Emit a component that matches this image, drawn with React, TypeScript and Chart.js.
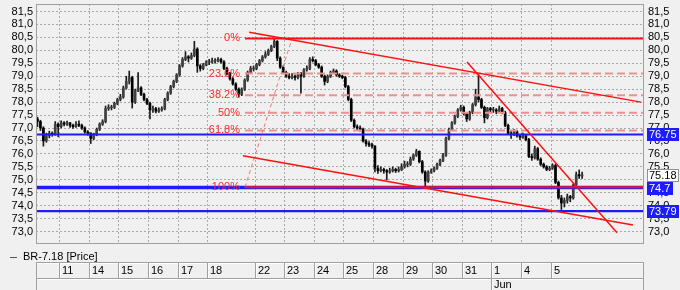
import React, { useEffect, useRef } from 'react';
import { Chart, registerables } from 'chart.js';

Chart.register(...registerables);

const FONT = '"Liberation Sans", Arial, Helvetica, sans-serif';

const seriesName = 'BR-7.18 [Price]';
const dayLabels = ['11', '14', '15', '16', '17', '18', '22', '23', '24', '25', '28', '29', '30', '31', '1', '4', '5'];
const dayStarts = [7.5, 17.5, 27.5, 37.5, 47.5, 57.5, 73.5, 83.5, 93.5, 103.5, 113.5, 123.5, 133.5, 143.5, 153.5, 163.5, 173.5];
const monthLabels = ['Jun'];
const monthStarts = [153.5];
const priceTicks = [73.0, 73.5, 74.0, 74.5, 75.0, 75.5, 76.0, 76.5, 77.0, 77.5, 78.0, 78.5, 79.0, 79.5, 80.0, 80.5, 81.0, 81.5];

const opens = [
  77.35, 77.25, 77.0, 76.5, 76.7, 76.8, 76.75, 77.15,
  77.05, 77.2, 77.15, 77.2, 77.1, 77.05, 77.15, 77.1, 77.0, 76.85,
  76.8, 76.6, 76.75, 76.95, 77.15, 77.25, 77.75, 77.8, 77.8, 77.95,
  78.1, 78.2, 78.55, 78.8, 78.95, 78.0, 78.45, 78.55, 78.3, 78.1,
  77.95, 77.7, 77.75, 77.65, 77.7, 77.75, 78.1, 78.35, 78.6, 78.8,
  79.05, 79.4, 79.65, 79.75, 79.7, 79.8, 80.05, 79.4, 79.3, 79.45,
  79.55, 79.55, 79.6, 79.6, 79.65, 79.55, 79.3, 79.1, 78.9, 78.7, 78.5, 78.3, 78.5, 78.85, 79.15, 79.3,
  79.3, 79.45, 79.6, 79.75, 79.85, 80.0, 80.15, 80.35, 79.7, 79.35,
  79.15, 79.0, 78.95, 79.0, 78.95, 79.1, 79.0, 79.25, 79.3, 79.65,
  79.6, 79.45, 79.35, 79.0, 78.8, 79.0, 79.15, 79.2, 79.05, 79.0,
  78.95, 78.6, 78.1, 77.3, 77.05, 77.0, 76.95, 76.5, 76.4, 76.35,
  76.3, 75.45, 75.35, 75.4, 75.35, 75.3, 75.35, 75.4, 75.35, 75.4,
  75.5, 75.6, 75.6, 75.8, 75.95, 76.1, 75.7, 75.3, 74.95, 75.3,
  75.35, 75.45, 75.6, 75.75, 75.95, 76.6, 76.95, 77.2, 77.45, 77.7,
  77.8, 77.55, 77.35, 77.6, 77.9, 78.2, 78.1, 77.8, 77.4, 77.75,
  77.7, 77.7, 77.65, 77.75, 77.6, 77.1, 76.8, 76.75, 76.85, 76.7,
  76.65, 76.7, 76.55, 75.9, 75.85, 76.2, 75.8, 75.6, 75.5, 75.4,
  75.45, 75.55, 74.9, 74.3, 74.1, 74.2, 74.35, 74.3, 74.8, 75.2, 75.15
];
const highs = [
  77.42, 77.3, 77.05, 76.8, 76.88, 76.85, 77.25, 77.2,
  77.28, 77.25, 77.27, 77.22, 77.15, 77.25, 77.28, 77.15, 77.05, 76.9,
  76.82, 76.8, 77.0, 77.2, 77.32, 77.85, 77.9, 77.88, 78.0, 78.15,
  78.3, 78.62, 79.0, 79.2, 79.0, 78.5, 79.14, 78.6, 78.35, 78.15,
  78.0, 77.85, 77.8, 77.78, 77.82, 78.15, 78.4, 78.65, 78.85, 79.1,
  79.45, 79.72, 79.95, 79.8, 79.9, 80.35, 80.1, 79.45, 79.5, 79.6,
  79.65, 79.7, 79.68, 79.72, 79.7, 79.6, 79.35, 79.15, 78.95, 78.75, 78.55, 78.55, 78.9, 79.2, 79.38, 79.4,
  79.5, 79.65, 79.8, 79.95, 80.05, 80.2, 80.45, 80.38, 79.75, 79.4,
  79.2, 79.1, 79.1, 79.05, 79.15, 79.15, 79.3, 79.4, 79.72, 79.75,
  79.65, 79.5, 79.4, 79.05, 79.05, 79.2, 79.28, 79.25, 79.1, 79.05,
  79.0, 78.65, 78.15, 77.35, 77.12, 77.08, 77.0, 76.55, 76.48, 76.42,
  76.32, 75.55, 75.5, 75.45, 75.4, 75.45, 75.5, 75.45, 75.5, 75.62,
  75.72, 75.7, 75.88, 76.0, 76.18, 76.12, 75.75, 75.35, 75.35, 75.42,
  75.5, 75.65, 75.8, 76.02, 76.65, 77.0, 77.25, 77.5, 77.75, 77.88,
  77.85, 77.6, 77.65, 77.95, 78.5, 79.05, 78.15, 77.85, 77.8, 77.8,
  77.8, 77.75, 77.85, 77.8, 77.65, 77.15, 76.9, 76.95, 76.9, 76.75,
  76.8, 76.75, 76.6, 76.0, 76.3, 76.25, 75.85, 75.65, 75.55, 75.52,
  75.62, 75.6, 74.95, 74.4, 74.3, 74.45, 74.4, 74.85, 75.3, 75.38, 75.3
];
const lows = [
  77.05, 76.9, 76.3, 76.45, 76.62, 76.68, 76.72, 76.66,
  77.0, 77.08, 77.1, 77.02, 76.98, 77.02, 77.05, 76.95, 76.8, 76.72,
  76.4, 76.55, 76.7, 76.9, 77.1, 77.2, 77.68, 77.7, 77.75, 77.9,
  78.05, 78.15, 78.5, 78.7, 77.77, 77.95, 78.4, 78.25, 78.05, 77.9,
  77.35, 77.6, 77.58, 77.6, 77.65, 77.7, 78.05, 78.3, 78.55, 78.75,
  79.0, 79.35, 79.6, 79.55, 79.65, 79.75, 79.15, 79.2, 79.25, 79.4,
  79.45, 79.5, 79.5, 79.55, 79.5, 79.25, 79.05, 78.85, 78.65, 78.45, 78.2, 78.25, 78.45, 78.8, 79.1, 79.2,
  79.25, 79.4, 79.55, 79.7, 79.8, 79.95, 80.1, 79.6, 79.3, 79.1,
  78.95, 78.9, 78.9, 78.85, 78.9, 78.35, 78.95, 79.2, 79.25, 79.55,
  79.4, 79.3, 78.95, 78.66, 78.75, 78.95, 79.1, 79.0, 78.95, 78.9,
  78.55, 78.05, 77.25, 77.0, 76.92, 76.88, 76.45, 76.3, 76.28, 76.22,
  75.3, 75.25, 75.3, 75.25, 75.0, 75.25, 75.3, 75.28, 75.3, 75.35,
  75.45, 75.5, 75.55, 75.75, 75.9, 75.65, 75.25, 74.72, 74.9, 75.25,
  75.3, 75.4, 75.55, 75.7, 75.9, 76.55, 76.9, 77.15, 77.4, 77.65,
  77.5, 77.25, 77.3, 77.55, 77.85, 78.0, 77.75, 77.2, 77.35, 77.6,
  77.6, 77.55, 77.6, 77.55, 77.05, 76.75, 76.6, 76.7, 76.65, 76.55,
  76.6, 76.5, 75.85, 75.75, 75.8, 75.75, 75.55, 75.45, 75.35, 75.35,
  75.4, 74.85, 74.25, 73.85, 73.95, 74.1, 74.15, 74.25, 74.75, 75.05, 75.05
];
const closes = [
  77.25, 77.0, 76.5, 76.7, 76.8, 76.75, 77.15, 77.05,
  77.2, 77.15, 77.2, 77.1, 77.05, 77.15, 77.1, 77.0, 76.85, 76.8,
  76.6, 76.75, 76.95, 77.15, 77.25, 77.75, 77.8, 77.8, 77.95, 78.1,
  78.2, 78.55, 78.8, 78.95, 78.0, 78.45, 78.55, 78.3, 78.1, 77.95,
  77.7, 77.75, 77.65, 77.7, 77.75, 78.1, 78.35, 78.6, 78.8, 79.05,
  79.4, 79.65, 79.75, 79.7, 79.8, 80.05, 79.4, 79.3, 79.45, 79.55,
  79.55, 79.6, 79.6, 79.65, 79.55, 79.3, 79.1, 78.9, 78.7, 78.5, 78.3, 78.5, 78.85, 79.15, 79.3, 79.3,
  79.45, 79.6, 79.75, 79.85, 80.0, 80.15, 80.35, 79.7, 79.35, 79.15,
  79.0, 78.95, 79.0, 78.95, 79.1, 79.0, 79.25, 79.3, 79.65, 79.6,
  79.45, 79.35, 79.0, 78.8, 79.0, 79.15, 79.2, 79.05, 79.0, 78.95,
  78.6, 78.1, 77.3, 77.05, 77.0, 76.95, 76.5, 76.4, 76.35, 76.3,
  75.45, 75.35, 75.4, 75.35, 75.3, 75.35, 75.4, 75.35, 75.4, 75.5,
  75.6, 75.6, 75.8, 75.95, 76.1, 75.7, 75.3, 74.95, 75.3, 75.35,
  75.45, 75.6, 75.75, 75.95, 76.6, 76.95, 77.2, 77.45, 77.7, 77.8,
  77.55, 77.35, 77.6, 77.9, 78.2, 78.1, 77.8, 77.4, 77.75, 77.7,
  77.7, 77.65, 77.75, 77.6, 77.1, 76.8, 76.75, 76.85, 76.7, 76.65,
  76.7, 76.55, 75.9, 75.85, 76.2, 75.8, 75.6, 75.5, 75.4, 75.45,
  75.55, 74.9, 74.3, 74.1, 74.2, 74.35, 74.3, 74.8, 75.2, 75.15, 75.18
];

const levelLines = [76.75, 74.7, 73.79];
const lastPrice = 75.18;
const fibHigh = 80.46;
const fibLow = 74.71;
const fibFrom = 70.1;
const fibPeak = 86.0;
const fibPercents = [0, 23.6, 38.2, 50, 61.8, 100];
const trendStartX = [71.5, 69.4, 145.1];
const trendStartY = [80.7, 75.93, 79.55];
const trendEndX = [203.9, 201.2, 195.8];
const trendEndY = [78.0, 73.25, 72.95];

const X_MIN = -0.5;
const X_MAX = 204.9;
const Y_MIN = 72.52;
const Y_MAX = 81.79;

const BLUE = '#1c1cff';
const RED = '#ff1010';
const GRID = '#a8a8a8';

function seg(x1: number, y1: number, x2: number, y2: number, color: string, width: number, dash: number[], order: number) {
  return {
    type: 'line',
    label: '',
    data: [{ x: x1, y: y1 }, { x: x2, y: y2 }],
    borderColor: color,
    borderWidth: width,
    borderDash: dash,
    pointRadius: 0,
    fill: false,
    tension: 0,
    order,
  };
}

const fibValue = (p: number) => fibHigh - ((fibHigh - fibLow) * p) / 100;

const decorPlugin = {
  id: 'decor',
  beforeDraw(chart: any) {
    const ctx = chart.ctx;
    ctx.save();
    ctx.fillStyle = '#f0f0f0';
    ctx.fillRect(0, 0, chart.width, chart.height);
    ctx.restore();
  },
  afterDatasetsDraw(chart: any) {
    const ctx = chart.ctx;
    const xs = chart.scales.x;
    const ys = chart.scales.y;
    ctx.save();
    ctx.font = `11px ${FONT}`;
    ctx.fillStyle = '#ff2a2a';
    ctx.textAlign = 'right';
    ctx.textBaseline = 'middle';
    const lx = xs.getPixelForValue(fibFrom) - 5;
    fibPercents.forEach((p) => {
      ctx.fillText(`${p}%`, lx, ys.getPixelForValue(fibValue(p)));
    });
    ctx.restore();
  },
  afterDraw(chart: any) {
    const ctx = chart.ctx;
    const ca = chart.chartArea;
    const xs = chart.scales.x;
    const ys = chart.scales.y;
    ctx.save();
    ctx.strokeStyle = '#a0a0a0';
    ctx.lineWidth = 1;
    ctx.strokeRect(ca.left + 0.5, ca.top + 0.5, ca.right - ca.left - 1, ca.bottom - ca.top - 1);

    ctx.font = `11px ${FONT}`;
    ctx.textBaseline = 'middle';
    ctx.textAlign = 'left';
    const boxes = [
      { v: levelLines[0], fill: BLUE, text: '#ffffff', border: null },
      { v: lastPrice, fill: '#ffffff', text: '#000000', border: '#909090' },
      { v: levelLines[1], fill: BLUE, text: '#ffffff', border: null },
      { v: levelLines[2], fill: BLUE, text: '#ffffff', border: null },
    ];
    boxes.forEach((b) => {
      const py = Math.round(ys.getPixelForValue(b.v));
      const label = String(b.v);
      const w = Math.ceil(ctx.measureText(label).width) + 4;
      const x0 = ca.right + 3;
      ctx.fillStyle = b.fill;
      ctx.fillRect(x0, py - 6, w, 13);
      if (b.border) {
        ctx.strokeStyle = b.border;
        ctx.strokeRect(x0 + 0.5, py - 5.5, w - 1, 12);
      }
      ctx.fillStyle = b.text;
      ctx.fillText(label, x0 + 2, py + 0.5);
    });

    const ly = ca.bottom + 13;
    ctx.strokeStyle = '#555555';
    ctx.beginPath();
    ctx.moveTo(10, ly + 0.5);
    ctx.lineTo(17, ly + 0.5);
    ctx.stroke();
    ctx.fillStyle = '#000000';
    ctx.fillText(chart.data.datasets[1].label, 23, ly);

    const top = ca.bottom + 18;
    const mid = top + 16;
    const bot = chart.height;
    const hline = (x1: number, x2: number, y: number, c: string) => {
      ctx.strokeStyle = c;
      ctx.beginPath();
      ctx.moveTo(x1, y + 0.5);
      ctx.lineTo(x2, y + 0.5);
      ctx.stroke();
    };
    const vline = (x: number, y1: number, y2: number, c: string) => {
      ctx.strokeStyle = c;
      ctx.beginPath();
      ctx.moveTo(x + 0.5, y1);
      ctx.lineTo(x + 0.5, y2);
      ctx.stroke();
    };
    hline(ca.left, ca.right, top, '#a0a0a0');
    hline(ca.left + 1, ca.right, top + 1, '#ffffff');
    hline(ca.left, ca.right, mid, '#a0a0a0');
    hline(ca.left + 1, ca.right, mid + 1, '#ffffff');
    vline(ca.left, top, bot, '#a0a0a0');
    vline(ca.right - 1, top, bot, '#a0a0a0');
    ctx.fillStyle = '#000000';
    dayStarts.forEach((d, k) => {
      const px = Math.floor(xs.getPixelForValue(d));
      vline(px, top, mid, '#a0a0a0');
      vline(px + 1, top + 1, mid, '#ffffff');
      ctx.fillText(dayLabels[k], px + 3, (top + mid) / 2 + 1);
    });
    monthStarts.forEach((d, k) => {
      const px = Math.floor(xs.getPixelForValue(d));
      vline(px, mid, bot, '#a0a0a0');
      vline(px + 1, mid + 1, bot, '#ffffff');
      ctx.fillText(monthLabels[k], px + 3, mid + 7);
    });
    ctx.restore();
  },
};

export default function App() {
  const ref = useRef<HTMLCanvasElement>(null);

  useEffect(() => {
    if (!ref.current) return;
    const idx = closes.map((_, i) => i);
    const wicks = {
      type: 'bar',
      label: 'wick',
      data: idx.map((i) => ({ x: i, y: [lows[i], highs[i]] })),
      backgroundColor: '#1a1a1a',
      barThickness: 1,
      grouped: false,
      order: 10,
    };
    const bodies = {
      type: 'bar',
      label: seriesName,
      data: idx.map((i) => {
        let a = Math.min(opens[i], closes[i]);
        let b = Math.max(opens[i], closes[i]);
        if (b - a < 0.03) {
          a -= 0.015;
          b += 0.015;
        }
        return { x: i, y: [a, b] };
      }),
      backgroundColor: idx.map((i) => (closes[i] >= opens[i] ? '#404040' : '#000000')),
      barThickness: 2,
      grouped: false,
      order: 9,
    };
    const lines: any[] = [];
    levelLines.forEach((v, k) => {
      lines.push(seg(X_MIN, v, X_MAX, v, BLUE, k === 1 ? 3.5 : 2.2, [], 6));
    });
    fibPercents.forEach((p) => {
      const v = fibValue(p);
      if (p === 0 || p === 100) {
        lines.push(seg(fibFrom, v, X_MAX, v, RED, 2, [], 2));
      } else {
        lines.push(seg(fibFrom, v, X_MAX, v, '#ef9090', 2, [8, 4], 4));
      }
    });
    lines.push(seg(fibFrom, fibLow, fibPeak, fibHigh, '#f07878', 1, [4, 3], 3));
    trendStartX.forEach((sx, k) => {
      lines.push(seg(sx, trendStartY[k], trendEndX[k], trendEndY[k], RED, 1.5, [], 1));
    });

    const tickFont = { family: FONT, size: 11 };
    const fmt = (v: any) => Number(v).toFixed(1).replace('.', ',');

    const chart = new Chart(ref.current, {
      type: 'bar',
      data: { datasets: [wicks, bodies, ...lines] as any },
      plugins: [decorPlugin],
      options: {
        animation: false,
        responsive: false,
        devicePixelRatio: 1,
        events: [],
        layout: { padding: { top: 4, bottom: 46, left: 0, right: 0 } },
        plugins: { legend: { display: false }, tooltip: { enabled: false } },
        scales: {
          x: {
            type: 'linear',
            min: X_MIN,
            max: X_MAX,
            offset: false,
            afterBuildTicks: (s: any) => {
              s.ticks = dayStarts.map((v) => ({ value: v }));
            },
            afterFit: (s: any) => {
              s.height = 0;
              s.paddingLeft = 0;
              s.paddingRight = 0;
            },
            ticks: { display: false },
            grid: { color: GRID, lineWidth: 1, drawTicks: false, offset: false },
            border: { display: false, dash: [2, 2] },
          },
          y: {
            type: 'linear',
            position: 'left',
            min: Y_MIN,
            max: Y_MAX,
            beginAtZero: false,
            afterBuildTicks: (s: any) => {
              s.ticks = priceTicks.map((v) => ({ value: v }));
            },
            afterFit: (s: any) => {
              s.width = 36;
              s.paddingTop = 0;
              s.paddingBottom = 0;
            },
            ticks: { padding: 3, color: '#000000', font: tickFont, callback: fmt, autoSkip: false },
            grid: { color: GRID, lineWidth: 1, drawTicks: false },
            border: { display: false, dash: [2, 2] },
          },
          y2: {
            type: 'linear',
            position: 'right',
            min: Y_MIN,
            max: Y_MAX,
            beginAtZero: false,
            afterBuildTicks: (s: any) => {
              s.ticks = priceTicks.map((v) => ({ value: v }));
            },
            afterFit: (s: any) => {
              s.width = 36;
              s.paddingTop = 0;
              s.paddingBottom = 0;
            },
            ticks: { padding: 4, color: '#000000', font: tickFont, callback: fmt, autoSkip: false },
            grid: { display: false, drawTicks: false },
            border: { display: false },
          },
        },
      } as any,
    });
    return () => chart.destroy();
  }, []);

  return (
    <div style={{ position: 'fixed', left: 0, top: 0, width: 680, height: 290, background: '#f0f0f0' }}>
      <canvas ref={ref} width={680} height={290} style={{ display: 'block', width: 680, height: 290 }} />
    </div>
  );
}
